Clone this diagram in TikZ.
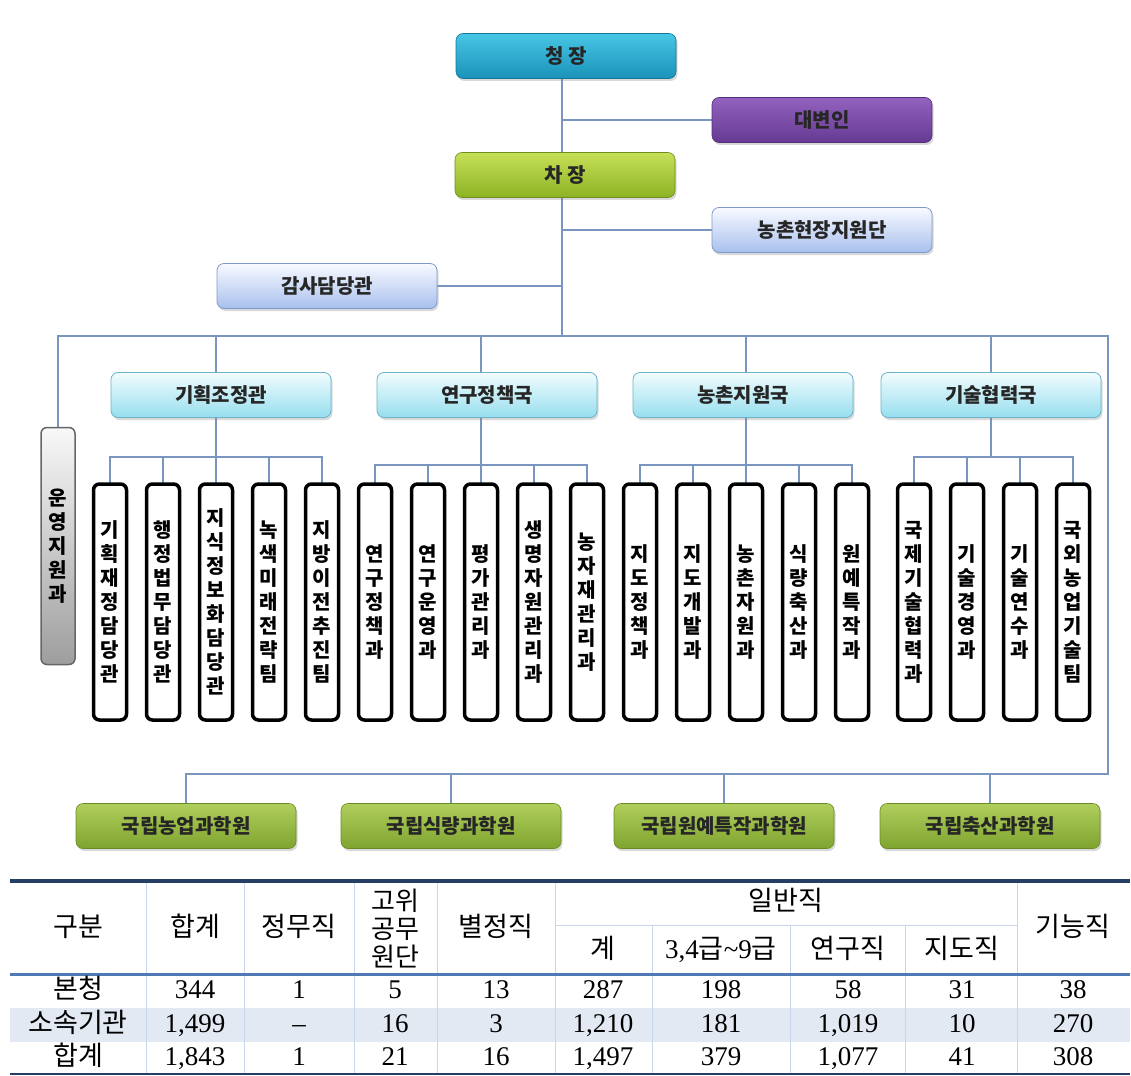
\documentclass[tikz,border=0pt]{standalone}
\usepackage{fontspec}
\setmainfont{Liberation Serif}
\newfontfamily\kr{Noto Sans CJK KR}
\usetikzlibrary{positioning, shadows, backgrounds}

\definecolor{linkblue}{RGB}{122,150,192}
\definecolor{chiefA}{RGB}{72,198,228}
\definecolor{chiefB}{RGB}{26,146,186}
\definecolor{purpA}{RGB}{146,98,190}
\definecolor{purpB}{RGB}{102,58,146}
\definecolor{limeA}{RGB}{198,224,88}
\definecolor{limeB}{RGB}{140,178,36}
\definecolor{paleA}{RGB}{248,250,255}
\definecolor{paleB}{RGB}{168,192,238}
\definecolor{paleD}{RGB}{128,154,200}
\definecolor{aquaA}{RGB}{242,252,254}
\definecolor{aquaB}{RGB}{150,222,238}
\definecolor{aquaD}{RGB}{108,178,200}
\definecolor{oliveA}{RGB}{176,206,92}
\definecolor{oliveB}{RGB}{126,164,46}
\definecolor{greyA}{RGB}{248,248,248}
\definecolor{greyB}{RGB}{158,158,158}
\definecolor{tabnavy}{RGB}{36,62,100}
\definecolor{tabblue}{RGB}{78,120,182}
\definecolor{tabgrid}{RGB}{200,215,236}
\definecolor{tabshade}{RGB}{226,233,243}

\begin{document}
\begin{tikzpicture}[
    x=1pt, y=-1pt,
    conn/.style={draw=linkblue, line width=1.2pt},
    orgbox/.style={rectangle, rounded corners=7pt, minimum width=220pt, minimum height=45pt,
        inner sep=0pt, outer sep=0pt, align=center, text=black!85,
        font=\kr\bfseries\fontsize{20}{22}\selectfont,
        drop shadow={shadow xshift=1.5pt, shadow yshift=-2.5pt, opacity=0.3}},
    chiefbox/.style={orgbox, top color=chiefA, bottom color=chiefB, draw=chiefB!80!black, line width=0.6pt},
    spokebox/.style={orgbox, top color=purpA, bottom color=purpB, draw=purpB!80!black, line width=0.6pt},
    vicebox/.style={orgbox, top color=limeA, bottom color=limeB, draw=limeB!80!black, line width=0.6pt},
    palebox/.style={orgbox, top color=paleA, bottom color=paleB, draw=paleD, line width=0.8pt},
    aquabox/.style={orgbox, top color=aquaA, bottom color=aquaB, draw=aquaD, line width=0.8pt},
    instbox/.style={orgbox, top color=oliveA, bottom color=oliveB, draw=oliveB!85!black, line width=0.6pt},
    vbox/.style={rectangle, draw=black, line width=3.5pt, rounded corners=6pt, fill=white,
        minimum width=33pt, minimum height=236pt, inner sep=0pt, outer sep=0pt, align=center,
        font=\kr\bfseries\fontsize{20}{24}\selectfont},
    greybox/.style={vbox, draw=black!60, line width=1.5pt, fill=none,
        top color=greyA, bottom color=greyB, minimum width=34pt, minimum height=237pt},
    hcell/.style={inner sep=0pt, text height=19pt, text depth=5pt, font=\kr\fontsize{27}{29}\selectfont},
    stackcell/.style={inner sep=0pt, align=center, font=\kr\fontsize{26}{28}\selectfont},
    cell/.style={inner sep=0pt, text height=19pt, text depth=5pt, font=\fontsize{27}{30}\selectfont},
]
\useasboundingbox (0,0) rectangle (1131,1075);

% ---- head office ----
\node (chung)    [chiefbox] at (566,56)  {청 장};
\node (daebyeon) [spokebox] at (822,120) {대변인};
\node (chajang)  [vicebox]  at (565,175) {차 장};
\node (nongchon) [palebox]  at (822,230) {농촌현장지원단};
\node (gamsa)    [palebox]  at (327,286) {감사담당관};

\coordinate (bus)  at (562,336);
\coordinate (busR) at (1108,336);
\coordinate (busB) at (1108,774);

% ---- bureaus ----
\node (gihoek) [aquabox] at (221,395) {기획조정관};
\node (yeongu) [aquabox] at (487,395) {연구정책국};
\node (nongji) [aquabox] at (743,395) {농촌지원국};
\node (gisul)  [aquabox] at (991,395) {기술협력국};

\node (unyeong) [greybox] at (58,546) {운\\영\\지\\원\\과};

% ---- divisions ----
\node (v1)  [vbox] at (110,602)         {기\\획\\재\\정\\담\\당\\관};
\node (v2)  [vbox, right=20pt of v1]    {행\\정\\법\\무\\담\\당\\관};
\node (v3)  [vbox, right=20pt of v2]    {지\\식\\정\\보\\화\\담\\당\\관};
\node (v4)  [vbox, right=20pt of v3]    {녹\\색\\미\\래\\전\\략\\팀};
\node (v5)  [vbox, right=20pt of v4]    {지\\방\\이\\전\\추\\진\\팀};
\node (v6)  [vbox, right=20pt of v5]    {연\\구\\정\\책\\과};
\node (v7)  [vbox, right=20pt of v6]    {연\\구\\운\\영\\과};
\node (v8)  [vbox, right=20pt of v7]    {평\\가\\관\\리\\과};
\node (v9)  [vbox, right=20pt of v8]    {생\\명\\자\\원\\관\\리\\과};
\node (v10) [vbox, right=20pt of v9]    {농\\자\\재\\관\\리\\과};
\node (v11) [vbox, right=20pt of v10]   {지\\도\\정\\책\\과};
\node (v12) [vbox, right=20pt of v11]   {지\\도\\개\\발\\과};
\node (v13) [vbox, right=20pt of v12]   {농\\촌\\자\\원\\과};
\node (v14) [vbox, right=20pt of v13]   {식\\량\\축\\산\\과};
\node (v15) [vbox, right=20pt of v14]   {원\\예\\특\\작\\과};
\node (v16) [vbox] at (914,602)         {국\\제\\기\\술\\협\\력\\과};
\node (v17) [vbox, right=20pt of v16]   {기\\술\\경\\영\\과};
\node (v18) [vbox, right=20pt of v17]   {기\\술\\연\\수\\과};
\node (v19) [vbox, right=20pt of v18]   {국\\외\\농\\업\\기\\술\\팀};

\coordinate (g1) at ([yshift=27pt]v3.north);
\coordinate (g2) at ([yshift=19pt]v8.north);
\coordinate (g3) at ([yshift=19pt]v13.north);
\coordinate (g4) at (gisul.south |- g1);

% ---- affiliated institutes ----
\node (inst1) [instbox] at (186,826) {국립농업과학원};
\node (inst2) [instbox] at (451,826) {국립식량과학원};
\node (inst3) [instbox] at (724,826) {국립원예특작과학원};
\node (inst4) [instbox] at (990,826) {국립축산과학원};

% ---- connectors ----
\begin{scope}[on background layer]
\draw[conn] (chung.south -| bus) -- (bus);
\draw[conn] (daebyeon.west) -- (daebyeon.west -| bus);
\draw[conn] (nongchon.west) -- (nongchon.west -| bus);
\draw[conn] (gamsa.east) -- (gamsa.east -| bus);
\draw[conn] (unyeong.north) |- (busR) -- (busB) -| (inst1.north);
\draw[conn] (busB -| inst2.north) -- (inst2.north);
\draw[conn] (busB -| inst3.north) -- (inst3.north);
\draw[conn] (busB -| inst4.north) -- (inst4.north);

\draw[conn] (bus -| v3.north) -- (v3.north);
\draw[conn] (v1.north) |- (g1) -| (v5.north);
\draw[conn] (v2.north) -- (v2.north |- g1);
\draw[conn] (v4.north) -- (v4.north |- g1);

\draw[conn] (bus -| v8.north) -- (v8.north);
\draw[conn] (v6.north) |- (g2) -| (v10.north);
\draw[conn] (v7.north) -- (v7.north |- g2);
\draw[conn] (v9.north) -- (v9.north |- g2);

\draw[conn] (bus -| v13.north) -- (v13.north);
\draw[conn] (v11.north) |- (g3) -| (v15.north);
\draw[conn] (v12.north) -- (v12.north |- g3);
\draw[conn] (v14.north) -- (v14.north |- g3);

\draw[conn] (bus -| gisul.north) -- (g4);
\draw[conn] (v16.north) |- (g4) -| (v19.north);
\draw[conn] (v17.north) -- (v17.north |- g4);
\draw[conn] (v18.north) -- (v18.north |- g4);
\end{scope}

% ---- staff table ----
\fill[tabshade] (10,1008) rectangle (1130,1042);
\foreach \xx in {146,244,354,437,555,1017}
    \draw[tabgrid, line width=1pt] (\xx,881) -- (\xx,1074);
\foreach \xx in {652,790,905}
    \draw[tabgrid, line width=1pt] (\xx,925) -- (\xx,1074);
\draw[tabgrid, line width=1pt] (555,925) -- (1017,925);
\draw[tabnavy, line width=4pt] (10,881) -- (1130,881);
\draw[tabblue, line width=3pt] (10,974) -- (1130,974);
\draw[tabnavy, line width=2pt] (10,1074) -- (1130,1074);

\node (hgubun)   [hcell] at (78,929)  {구분};
\node (hsum)     [hcell] at (195,929) {합계};
\node (hjeongmu) [hcell] at (299,929) {정무직};
\node (hgowi)    [stackcell] at (395,929) {고위\\공무\\원단};
\node (hbyeol)   [hcell] at (496,929) {별정직};
\node (hilban)   [hcell] at (786,903) {일반직};
\node (hgye)     [hcell] at (603,951) {계};
\node (hgrade)   [cell]  at (721,951) {3,4{\kr\fontsize{27}{29}\selectfont 급}\textasciitilde 9{\kr\fontsize{27}{29}\selectfont 급}};
\node (hyeongu)  [hcell] at (848,951) {연구직};
\node (hjido)    [hcell] at (962,951) {지도직};
\node (hgineung) [hcell] at (1073,929) {기능직};

\node (rbon)  [hcell] at (78,991)  {본청};
\node (rsok)  [hcell] at (78,1025) {소속기관};
\node (rsum)  [hcell] at (78,1058) {합계};

\foreach \cx/\ra/\rb/\rc [count=\k] in {
    195/344/{1,499}/{1,843},
    299/1/--/1,
    395/5/16/21,
    496/13/3/16,
    603/287/{1,210}/{1,497},
    721/198/181/379,
    848/58/{1,019}/{1,077},
    962/31/10/41,
    1073/38/270/308}
{
    \node (a\k) [cell] at (\cx,991)  {\ra};
    \node (b\k) [cell] at (\cx,1025) {\rb};
    \node (c\k) [cell] at (\cx,1058) {\rc};
}

\end{tikzpicture}
\end{document}
